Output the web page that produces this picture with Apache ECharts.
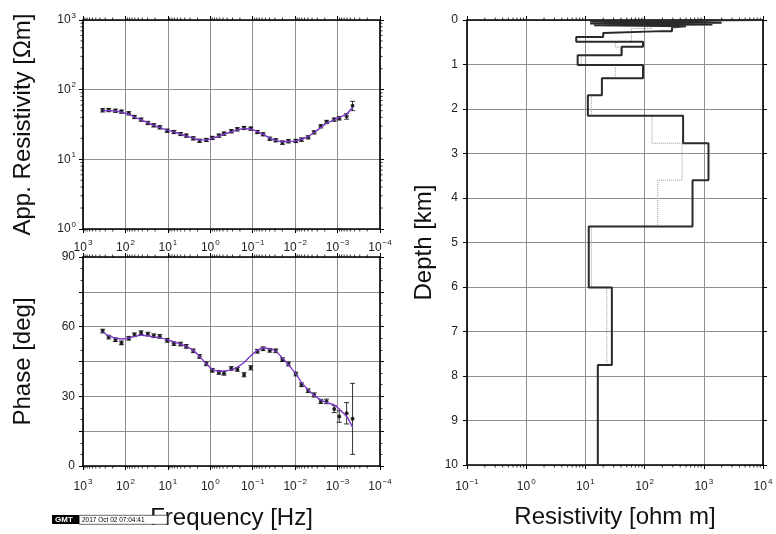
<!DOCTYPE html>
<html><head><meta charset="utf-8">
<script src="https://cdn.jsdelivr.net/npm/echarts@6/dist/echarts.min.js"></script>
<style>html,body{margin:0;padding:0;background:#fff}#c{width:776px;height:534px}</style>
</head><body><div id="c"></div>
<script>
// ---- data ----
const freq = [343, 248, 172, 124, 83.4, 61.2, 42.7, 29.6, 21.4, 15.5, 10.4, 7.21, 5.02, 3.69, 2.52, 1.79, 1.24, 0.898, 0.624, 0.475,
  0.319, 0.230, 0.160, 0.111, 0.0776, 0.0570, 0.0396, 0.0286, 0.0199, 0.0144, 0.00964, 0.00708, 0.00493, 0.00356, 0.00248, 0.00182, 0.00120, 0.000914, 0.000612, 0.000443];
const appRes = [50.6, 51.0, 50.0, 48.4, 45.8, 40.6, 37.2, 33.3, 30.8, 28.8, 25.8, 24.7, 23.1, 21.9, 20.0, 18.5, 19.0, 20.3, 21.9, 23.4,
  25.3, 27.0, 28.2, 27.6, 24.7, 22.9, 19.8, 18.8, 17.4, 18.2, 18.4, 19.2, 20.7, 24.4, 29.8, 34.4, 37.2, 38.8, 41.5, 59.0];
const appResErr = [2.8, 2.8, 2.7, 2.6, 2.5, 2.2, 2.0, 1.8, 1.7, 1.6, 1.4, 1.3, 1.2, 1.2, 1.1, 1.0, 1.0, 1.1, 1.2, 1.3,
  1.4, 1.5, 1.5, 1.5, 1.3, 1.2, 1.1, 1.0, 1.0, 1.0, 1.0, 1.1, 1.1, 1.3, 1.6, 1.9, 2.0, 2.2, 3.8, 9.0];
const appResModel = [50.0, 50.0, 49.5, 47.5, 44.5, 40.5, 37.0, 33.5, 30.8, 28.5, 26.3, 24.7, 23.1, 21.7, 20.1, 19.0, 19.0, 20.0, 21.5, 23.0,
  24.8, 26.5, 27.6, 27.3, 25.0, 22.8, 20.2, 18.8, 18.0, 18.0, 18.4, 19.4, 21.3, 24.3, 28.5, 33.0, 36.8, 40.0, 45.0, 56.0];
const phase = [58.1, 55.5, 54.4, 53.0, 55.0, 56.5, 57.4, 56.8, 56.1, 55.8, 54.1, 52.7, 52.5, 51.5, 49.6, 47.2, 44.0, 41.2, 40.3, 39.9,
  42.0, 41.6, 39.3, 42.3, 49.4, 50.5, 49.8, 49.6, 45.8, 43.9, 39.6, 35.0, 32.4, 30.6, 27.8, 27.8, 24.5, 21.3, 22.7, 20.3];
const phaseErr = [0.8, 0.8, 0.8, 0.8, 0.8, 0.8, 0.8, 0.8, 0.8, 0.8, 0.8, 0.8, 0.8, 0.8, 0.8, 0.8, 0.8, 0.8, 0.8, 0.8,
  0.8, 0.8, 0.9, 0.9, 0.8, 0.8, 0.8, 0.8, 0.8, 0.8, 0.8, 0.8, 0.8, 0.9, 0.9, 1.0, 1.5, 2.5, 4.6, 15.3];
const phaseModel = [57.6, 56.1, 55.0, 54.7, 55.1, 55.8, 56.3, 56.1, 55.5, 55.3, 54.4, 53.4, 52.5, 51.5, 49.8, 47.2, 44.0, 41.7, 40.7, 40.9,
  41.4, 42.6, 44.6, 47.5, 49.8, 50.8, 50.5, 49.4, 46.5, 43.6, 39.7, 36.0, 32.8, 30.4, 28.5, 27.3, 26.3, 24.5, 21.3, 16.7];
// layered model: interface depths (km) and layer resistivities (ohm m)
const modelDepth = [0, 0.03, 0.06, 0.08, 0.10, 0.12, 0.14, 0.17, 0.25, 0.29, 0.38, 0.49, 0.60, 0.79, 1.01, 1.31, 1.69, 2.15, 2.77, 3.60, 4.64, 6.01, 7.75, 10];
const modelRho = [9500, 12, 2000, 12, 1400, 14, 500, 290, 200, 20, 7, 94, 41, 7.4, 94, 19, 11, 447, 1200, 645, 11.4, 28, 16.2];
const refDepth = [0, 0.03, 0.19, 0.49, 0.61, 0.80, 1.01, 1.30, 1.69, 2.15, 2.77, 3.60, 4.64, 6.00, 7.75, 10];
const refRho = [5000, 130, 60, 32, 39, 8.5, 32, 19, 12.6, 133, 430, 167, 12.6, 23, 16.5];
const minorMult = [2, 3, 4, 5, 6, 7, 8, 9];

// ---- helpers ----
const FONT = 'Liberation Sans, Arial, Helvetica, sans-serif';
function steps(depth, rho) {
  const pts = [];
  for (let i = 0; i < rho.length; i++) { pts.push([rho[i], depth[i]]); pts.push([rho[i], depth[i + 1]]); }
  return pts;
}
function minors(k0, k1) {
  const out = [];
  for (let k = k0; k <= k1; k++) minorMult.forEach(m => out.push(m * Math.pow(10, k)));
  return out;
}
function pow10Label(v) {
  const e = Math.round(Math.log10(v));
  return '10{s|' + (e < 0 ? '\u2212' + (-e) : e) + '}';
}
const powRich = { s: { fontSize: 8, verticalAlign: 'top', lineHeight: 8, fontFamily: FONT, color: '#222', padding: [0, 0, 0, 1] } };
const frameLine = { show: true, onZero: false, lineStyle: { color: '#000', width: 1.6 } };
const gridLine = { show: true, lineStyle: { color: '#8e8e8e', width: 1 } };
const tickStyle = { show: true, length: 4, lineStyle: { color: '#000', width: 1 } };
const labelBase = { fontSize: 12, lineHeight: 17, color: '#222', fontFamily: FONT };
function logX(grid, pos, labels, extra, margin) {
  return Object.assign({
    type: 'log', gridIndex: grid, position: pos, logBase: 10, min: 1e-4, max: 1e3, inverse: true,
    axisLine: frameLine, axisTick: tickStyle, splitLine: pos === 'bottom' ? gridLine : { show: false },
    axisLabel: labels ? Object.assign({ show: true, formatter: pow10Label, rich: powRich, margin: margin }, labelBase) : { show: false }
  }, extra || {});
}
function errSeries(x, y, z) {
  return x.map((f, i) => [f, y[i], z[i]]);
}
function errRender(params, api) {
  const x = api.value(0), y = api.value(1), e = api.value(2);
  const p1 = api.coord([x, y - e]), p2 = api.coord([x, y + e]);
  const w = 2.5, st = { stroke: '#000', lineWidth: 0.8 };
  return { type: 'group', children: [
    { type: 'line', shape: { x1: p1[0], y1: p1[1], x2: p2[0], y2: p2[1] }, style: st },
    { type: 'line', shape: { x1: p1[0] - w, y1: p1[1], x2: p1[0] + w, y2: p1[1] }, style: st },
    { type: 'line', shape: { x1: p2[0] - w, y1: p2[1], x2: p2[0] + w, y2: p2[1] }, style: st }
  ] };
}
// minor ticks on log axes (drawn on both opposite sides of the frame)
function minorXRender(params, api) {
  const cs = params.coordSys;
  const px = api.coord([api.value(0), api.value(1)])[0];
  const st = { stroke: '#000', lineWidth: 0.8 };
  return { type: 'group', children: [
    { type: 'line', shape: { x1: px, y1: cs.y + cs.height, x2: px, y2: cs.y + cs.height + 2.5 }, style: st },
    { type: 'line', shape: { x1: px, y1: cs.y, x2: px, y2: cs.y - 2.5 }, style: st }
  ] };
}
function minorYRender(params, api) {
  const cs = params.coordSys;
  const py = api.coord([api.value(0), api.value(1)])[1];
  const st = { stroke: '#000', lineWidth: 0.8 };
  return { type: 'group', children: [
    { type: 'line', shape: { x1: cs.x, y1: py, x2: cs.x - 2.5, y2: py }, style: st },
    { type: 'line', shape: { x1: cs.x + cs.width, y1: py, x2: cs.x + cs.width + 2.5, y2: py }, style: st }
  ] };
}

const chart = echarts.init(document.getElementById('c'), null, { renderer: 'canvas' });
const nameStyle = { fontSize: 24, color: '#111', fontFamily: FONT };

chart.setOption({
  animation: false,
  backgroundColor: '#fff',
  grid: [
    { left: 83, top: 20, width: 297, height: 209 },
    { left: 83, top: 257, width: 297, height: 209 },
    { left: 467, top: 20, width: 296, height: 445 }
  ],
  xAxis: [
    logX(0, 'bottom', true, null, 10),
    logX(0, 'top', false),
    logX(1, 'bottom', true, { name: 'Frequency [Hz]', nameLocation: 'middle', nameGap: 40, nameTextStyle: nameStyle }, 12),
    logX(1, 'top', false),
    { type: 'log', gridIndex: 2, position: 'bottom', logBase: 10, min: 0.1, max: 1e4,
      axisLine: frameLine, axisTick: tickStyle, splitLine: gridLine,
      axisLabel: Object.assign({ formatter: pow10Label, rich: powRich, margin: 13 }, labelBase),
      name: 'Resistivity [ohm m]', nameLocation: 'middle', nameGap: 40, nameTextStyle: nameStyle },
    { type: 'log', gridIndex: 2, position: 'top', logBase: 10, min: 0.1, max: 1e4,
      axisLine: frameLine, axisTick: tickStyle, splitLine: { show: false }, axisLabel: { show: false } }
  ],
  yAxis: [
    { type: 'log', gridIndex: 0, position: 'left', logBase: 10, min: 1, max: 1000,
      axisLine: frameLine, axisTick: tickStyle, splitLine: gridLine,
      axisLabel: Object.assign({ formatter: pow10Label, rich: powRich, margin: 7 }, labelBase),
      name: 'App. Resistivity [\u03A9m]', nameLocation: 'middle', nameRotate: 90, nameGap: 48, nameTextStyle: nameStyle },
    { type: 'log', gridIndex: 0, position: 'right', logBase: 10, min: 1, max: 1000,
      axisLine: frameLine, axisTick: tickStyle, splitLine: { show: false }, axisLabel: { show: false } },
    { type: 'value', gridIndex: 1, position: 'left', min: 0, max: 90, interval: 15,
      axisLine: frameLine, axisTick: tickStyle, splitLine: gridLine,
      minorTick: { show: true, splitNumber: 3, length: 2.5, lineStyle: { color: '#000', width: 0.8 } },
      axisLabel: Object.assign({ margin: 8, formatter: v => (v % 30 === 0 ? String(v) : '') }, labelBase),
      name: 'Phase [deg]', nameLocation: 'middle', nameRotate: 90, nameGap: 48, nameTextStyle: nameStyle },
    { type: 'value', gridIndex: 1, position: 'right', min: 0, max: 90, interval: 15,
      axisLine: frameLine, axisTick: tickStyle, splitLine: { show: false },
      minorTick: { show: true, splitNumber: 3, length: 2.5, lineStyle: { color: '#000', width: 0.8 } },
      axisLabel: { show: false } },
    { type: 'value', gridIndex: 2, position: 'left', min: 0, max: 10, interval: 1, inverse: true,
      axisLine: frameLine, axisTick: tickStyle, splitLine: gridLine,
      axisLabel: Object.assign({ margin: 9 }, labelBase),
      name: 'Depth [km]', nameLocation: 'middle', nameRotate: 90, nameGap: 31, nameTextStyle: nameStyle },
    { type: 'value', gridIndex: 2, position: 'right', min: 0, max: 10, interval: 1, inverse: true,
      axisLine: frameLine, axisTick: tickStyle, splitLine: { show: false }, axisLabel: { show: false } }
  ],
  series: [
    // minor ticks
    { type: 'custom', xAxisIndex: 0, yAxisIndex: 0, silent: true, renderItem: minorXRender, data: minors(-4, 2).map(v => [v, 10]) },
    { type: 'custom', xAxisIndex: 0, yAxisIndex: 0, silent: true, renderItem: minorYRender, data: minors(0, 2).map(v => [1, v]) },
    { type: 'custom', xAxisIndex: 2, yAxisIndex: 2, silent: true, renderItem: minorXRender, data: minors(-4, 2).map(v => [v, 45]) },
    { type: 'custom', xAxisIndex: 4, yAxisIndex: 4, silent: true, renderItem: minorXRender, data: minors(-1, 3).map(v => [v, 5]) },
    // apparent resistivity
    { type: 'custom', xAxisIndex: 0, yAxisIndex: 0, silent: true, renderItem: errRender, data: errSeries(freq, appRes, appResErr), z: 3 },
    { type: 'scatter', xAxisIndex: 0, yAxisIndex: 0, symbol: 'circle', symbolSize: 4, itemStyle: { color: '#000' }, data: freq.map((f, i) => [f, appRes[i]]), z: 4 },
    { type: 'line', xAxisIndex: 0, yAxisIndex: 0, smooth: 0.3, showSymbol: false, lineStyle: { color: '#7b3cc9', width: 1.4 }, data: freq.map((f, i) => [f, appResModel[i]]), z: 5 },
    // phase
    { type: 'custom', xAxisIndex: 2, yAxisIndex: 2, silent: true, renderItem: errRender, data: errSeries(freq, phase, phaseErr), z: 3 },
    { type: 'scatter', xAxisIndex: 2, yAxisIndex: 2, symbol: 'circle', symbolSize: 4, itemStyle: { color: '#000' }, data: freq.map((f, i) => [f, phase[i]]), z: 4 },
    { type: 'line', xAxisIndex: 2, yAxisIndex: 2, smooth: 0.3, showSymbol: false, lineStyle: { color: '#7b3cc9', width: 1.4 }, data: freq.map((f, i) => [f, phaseModel[i]]), z: 5 },
    // layered models
    { type: 'line', xAxisIndex: 4, yAxisIndex: 4, showSymbol: false, lineStyle: { color: '#999', width: 1, type: 'dotted' }, data: steps(refDepth, refRho), z: 3 },
    { type: 'line', xAxisIndex: 4, yAxisIndex: 4, showSymbol: false, lineStyle: { color: '#2a2a2a', width: 2 }, data: steps(modelDepth, modelRho), z: 4 }
  ],
  graphic: [
    { type: 'rect', left: 52, top: 515, shape: { width: 27, height: 9 }, style: { fill: '#000' }, z: 1 },
    { type: 'text', left: 55, top: 516, style: { text: 'GMT', fill: '#fff', font: 'bold 8px ' + FONT }, z: 2 },
    { type: 'rect', left: 79, top: 515, shape: { width: 88, height: 9 }, style: { fill: '#fff', stroke: '#000', lineWidth: 0.6 }, z: 1 },
    { type: 'text', left: 82, top: 516.5, style: { text: '2017 Oct 02 07:04:41', fill: '#000', font: '6.5px ' + FONT }, z: 2 }
  ]
});
</script></body></html>
